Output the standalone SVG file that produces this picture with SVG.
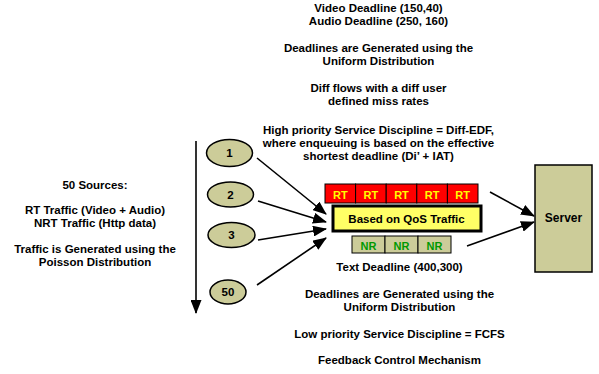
<svg xmlns="http://www.w3.org/2000/svg" width="599" height="374" viewBox="0 0 599 374">
<style>
text{font-family:"Liberation Sans",Arial,sans-serif;font-weight:bold;fill:#000;text-anchor:middle}
.c{font-size:11.5px}
.rt{font-size:11px;fill:#FFFF00}
.nr{font-size:11px;fill:#009900}
.src{fill:#CCCC99;stroke:#000;stroke-width:1.5}
.conn{stroke:#000;stroke-width:1.6;fill:none}
</style>
<defs>
<marker id="ah" markerUnits="userSpaceOnUse" viewBox="0 0 14 11" refX="13" refY="5.5" markerWidth="14" markerHeight="11" orient="auto">
<path d="M0,0 L14,5.5 L0,11 z" fill="#000"/>
</marker>
</defs>
<rect width="599" height="374" fill="#fff"/>
<g id="top-text">
<text class="c" x="378.5" y="12">Video Deadline (150,40)</text>
<text class="c" x="378.5" y="24.5">Audio Deadline (250, 160)</text>
<text class="c" x="378.5" y="51.5">Deadlines are Generated using the</text>
<text class="c" x="378.5" y="64.5">Uniform Distribution</text>
<text class="c" x="378.5" y="91.5">Diff flows with a diff user</text>
<text class="c" x="378.5" y="104.5">defined miss rates</text>
<text class="c" x="378.5" y="133.5">High priority Service Discipline = Diff-EDF,</text>
<text class="c" x="378.5" y="146.5">where enqueuing is based on the effective</text>
<text class="c" x="378.5" y="159.5">shortest deadline (Di’ + IAT)</text>
</g>
<g id="left-text">
<text class="c" x="95" y="188.5">50 Sources:</text>
<text class="c" x="95" y="214">RT Traffic (Video + Audio)</text>
<text class="c" x="95" y="226.5">NRT Traffic (Http data)</text>
<text class="c" x="95" y="252.5">Traffic is Generated using the</text>
<text class="c" x="95" y="265.5">Poisson Distribution</text>
</g>
<g id="bottom-text">
<text class="c" x="399.5" y="271">Text Deadline (400,300)</text>
<text class="c" x="399.5" y="297.5">Deadlines are Generated using the</text>
<text class="c" x="399.5" y="311">Uniform Distribution</text>
<text class="c" x="399.5" y="338">Low priority Service Discipline = FCFS</text>
<text class="c" x="399.5" y="363.5">Feedback Control Mechanism</text>
</g>
<g id="connectors">
<line class="conn" x1="196" y1="141" x2="196" y2="313" marker-end="url(#ah)"/>
<line class="conn" x1="257" y1="158" x2="326" y2="214" marker-end="url(#ah)"/>
<line class="conn" x1="258" y1="201" x2="326" y2="222" marker-end="url(#ah)"/>
<line class="conn" x1="258" y1="240" x2="326" y2="229" marker-end="url(#ah)"/>
<line class="conn" x1="257" y1="285" x2="326" y2="238" marker-end="url(#ah)"/>
<line class="conn" x1="490" y1="192" x2="534" y2="216" marker-end="url(#ah)"/>
<line class="conn" x1="467" y1="246" x2="534" y2="222" marker-end="url(#ah)"/>
</g>
<g id="src1"><ellipse class="src" cx="229.5" cy="153" rx="23" ry="13.5"/><text class="c" x="229.5" y="157">1</text></g>
<g id="src2"><ellipse class="src" cx="230.5" cy="194.5" rx="23" ry="12.5"/><text class="c" x="230.5" y="198.5">2</text></g>
<g id="src3"><ellipse class="src" cx="231.5" cy="235" rx="23.5" ry="12.5"/><text class="c" x="231.5" y="239">3</text></g>
<g id="src50"><ellipse class="src" cx="228" cy="292" rx="18" ry="12"/><text class="c" x="228" y="296">50</text></g>
<g id="rt-queue">
<rect x="325" y="184" width="30.6" height="19" fill="#FF0000" stroke="#000"/>
<rect x="355.6" y="184" width="30.6" height="19" fill="#FF0000" stroke="#000"/>
<rect x="386.2" y="184" width="30.6" height="19" fill="#FF0000" stroke="#000"/>
<rect x="416.8" y="184" width="30.6" height="19" fill="#FF0000" stroke="#000"/>
<rect x="447.4" y="184" width="30.6" height="19" fill="#FF0000" stroke="#000"/>
<text class="rt" x="340.3" y="198.5">RT</text>
<text class="rt" x="370.9" y="198.5">RT</text>
<text class="rt" x="401.5" y="198.5">RT</text>
<text class="rt" x="432.1" y="198.5">RT</text>
<text class="rt" x="462.7" y="198.5">RT</text>
</g>
<g id="qos">
<rect x="333" y="206" width="148" height="25" fill="#FFFF66" stroke="#000" stroke-width="3"/>
<text class="c" x="406.5" y="222.5">Based on QoS Traffic</text>
</g>
<g id="nr-queue">
<rect x="352" y="236" width="33" height="17" fill="#CCCC99" stroke="#000"/>
<rect x="385" y="236" width="33" height="17" fill="#CCCC99" stroke="#000"/>
<rect x="418" y="236" width="33" height="17" fill="#CCCC99" stroke="#000"/>
<text class="nr" x="368.5" y="249.5">NR</text>
<text class="nr" x="401.5" y="249.5">NR</text>
<text class="nr" x="434.5" y="249.5">NR</text>
</g>
<g id="server">
<rect x="535" y="165" width="57" height="107" fill="#CCCC99" stroke="#000" stroke-width="1.5"/>
<text x="563.5" y="222" style="font-size:12px">Server</text>
</g>
</svg>
